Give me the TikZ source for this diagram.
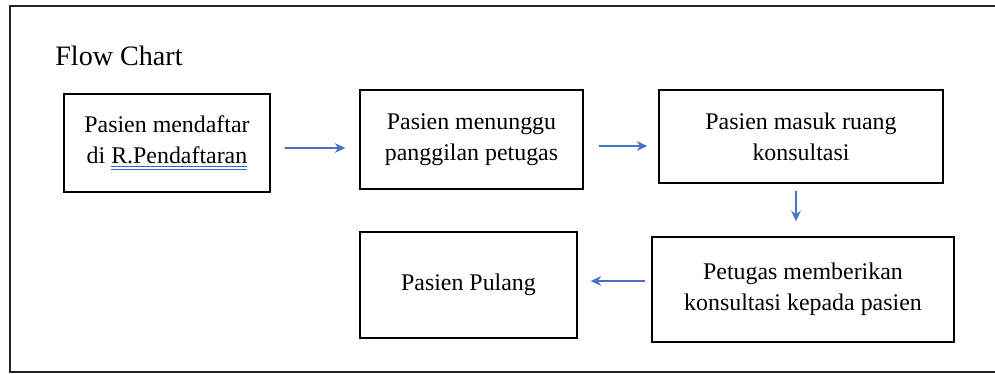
\documentclass[tikz,border=0pt]{standalone}
\usepackage{fontspec}
\setmainfont{Liberation Serif}
\usetikzlibrary{arrows.meta}

\definecolor{arrowblue}{HTML}{4472C4}
\definecolor{markblue}{HTML}{2F66E0}

% blue double underline (spelling mark) under a word
\newcommand{\spellmark}[1]{\setbox0\hbox{#1}\rlap{\color{markblue}\rule[-2.2pt]{\wd0}{0.65pt}\kern-\wd0\rule[-3.8pt]{\wd0}{0.65pt}}\box0}

\begin{document}
\begin{tikzpicture}[x=0.02cm,y=-0.02cm]
  \useasboundingbox (0,0) rectangle (995,374);
  \tikzstyle{box}=[draw,line width=0.8pt,inner sep=0pt,align=center,
                   font=\fontsize{13.6}{17.5}\selectfont]
  \tikzstyle{arr}=[arrowblue,line width=0.9pt,-{Stealth[length=6pt,width=5.5pt]}]

  % outer frame (right side cut off)
  \draw [line width=1.1pt,black!85] (1000,6) -- (10,6) -- (10,372) -- (1000,372);

  \path (55,56) node [anchor=west,inner sep=0pt,font=\fontsize{16}{19}\selectfont] (title) {Flow Chart};

  \path (167,143)     node [box,minimum width=4.12cm,minimum height=1.96cm] (daftar) {Pasien mendaftar\\di \spellmark{R.Pendaftaran}};
  \path (471.5,139.5) node [box,minimum width=4.46cm,minimum height=1.98cm] (tunggu) {Pasien menunggu\\panggilan petugas};
  \path (801,136.5)   node [box,minimum width=5.68cm,minimum height=1.86cm] (masuk)  {Pasien masuk ruang\\konsultasi};
  \path (803,289.5)   node [box,minimum width=6.04cm,minimum height=2.1cm]  (konsul) {Petugas memberikan\\konsultasi kepada pasien};
  \path (468.5,285)   node [box,minimum width=4.34cm,minimum height=2.12cm] (pulang) {Pasien Pulang};

  \draw [arr] ([shift={(14,5)}]daftar.east) -- ([shift={(-14,8.5)}]tunggu.west);
  \draw [arr] ([shift={(15,6.5)}]tunggu.east) -- ([shift={(-11,9.5)}]masuk.west);
  \draw [arr] ([shift={(-5,7)}]masuk.south) -- ([shift={(-7,-15)}]konsul.north);
  \draw [arr] ([shift={(-6,-8.5)}]konsul.west) -- ([shift={(13,-4)}]pulang.east);
\end{tikzpicture}
\end{document}
